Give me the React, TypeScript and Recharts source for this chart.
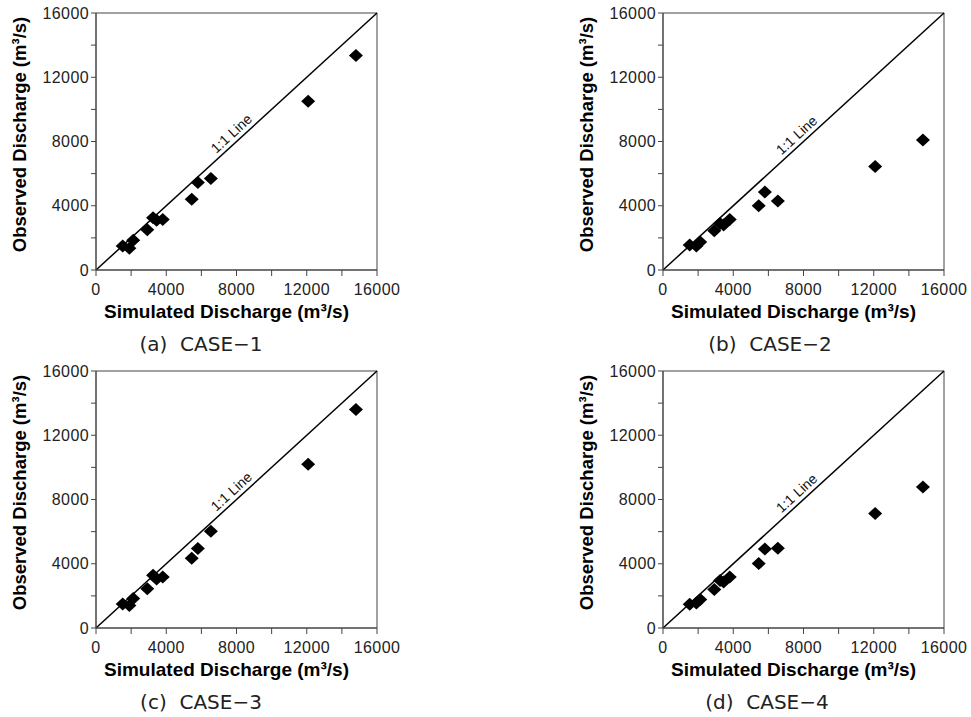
import {
  Label,
  ReferenceArea,
  ReferenceDot,
  ReferenceLine,
  Scatter,
  ScatterChart,
  XAxis,
  YAxis,
} from "recharts";

// simulated peak discharge per event (same events in every case)
const simulated = [1520, 1900, 2120, 2920, 3250, 3450, 3800, 5450, 5800, 6540, 12080, 14800];

// observed peak discharge per case
const observedCase1 = [1500, 1350, 1850, 2500, 3250, 3100, 3150, 4400, 5450, 5700, 10500, 13350];
const observedCase2 = [1550, 1500, 1750, 2450, 2900, 2800, 3150, 4000, 4850, 4300, 6450, 8100];
const observedCase3 = [1500, 1400, 1830, 2450, 3280, 3050, 3170, 4340, 4950, 6020, 10200, 13600];
const observedCase4 = [1480, 1550, 1780, 2400, 2950, 2870, 3170, 4010, 4920, 4960, 7130, 8780];

const axisTicks = [0, 2000, 4000, 6000, 8000, 10000, 12000, 14000, 16000];
const caseTitles = ["(a)  CASE\u22121", "(b)  CASE\u22122", "(c)  CASE\u22123", "(d)  CASE\u22124"];

const FONT = "'Liberation Sans', Arial, sans-serif";
const AXIS = "#444";

const toPoints = (obs: number[]) => simulated.map((sim, i) => ({ sim, obs: obs[i] }));

const Diamond = (props: any) => {
  const { cx, cy } = props;
  if (cx == null || cy == null) return null;
  return (
    <polygon
      points={`${cx - 7},${cy} ${cx},${cy - 6.5} ${cx + 7},${cy} ${cx},${cy + 6.5}`}
      fill="#000"
    />
  );
};

const XTitle = ({ viewBox }: any) => (
  <text
    x={viewBox.x + viewBox.width / 2 - 10}
    y={viewBox.y + 41}
    textAnchor="middle"
    dominantBaseline="central"
    fontFamily={FONT}
    fontWeight="bold"
    fontSize={19}
    fill="#000"
  >
    Simulated Discharge (m³/s)
  </text>
);

const YTitle = ({ viewBox }: any) => {
  const x = viewBox.x + 19;
  const y = viewBox.y + viewBox.height / 2 - 7;
  return (
    <text
      transform={`translate(${x},${y}) rotate(-90)`}
      textAnchor="middle"
      dominantBaseline="central"
      fontFamily={FONT}
      fontWeight="bold"
      fontSize={18.5}
      fill="#000"
    >
      Observed Discharge (m³/s)
    </text>
  );
};

const OneToOneText = ({ viewBox }: any) => (
  <text
    transform={`translate(${viewBox.x},${viewBox.y}) rotate(-42.4)`}
    textAnchor="middle"
    dominantBaseline="central"
    fontFamily={FONT}
    fontSize={14}
    fill="#111"
  >
    1:1 Line
  </text>
);

const tickFmt = (v: number) => (v % 4000 === 0 ? String(v) : "");
const tickStyle = { fontSize: 16, fill: "#222", fontFamily: FONT, letterSpacing: 0.4 };

interface PanelProps {
  left: number;
  top: number;
  observed: number[];
  title: string;
  titleX: number;
  labelAt: [number, number];
}

const Panel = ({ left, top, observed, title, titleX, labelAt }: PanelProps) => (
  <>
    <div style={{ position: "absolute", left, top }}>
      <ScatterChart width={400} height={340} margin={{ top: 13, right: 23, left: 0, bottom: 0 }}>
        <XAxis
          type="number"
          dataKey="sim"
          domain={[0, 16000]}
          ticks={axisTicks}
          interval={0}
          tickFormatter={tickFmt}
          tickSize={6}
          tickMargin={8}
          height={70}
          stroke={AXIS}
          tick={tickStyle}
          allowDataOverflow
        >
          <Label content={XTitle} />
        </XAxis>
        <YAxis
          type="number"
          dataKey="obs"
          domain={[0, 16000]}
          ticks={axisTicks}
          interval={0}
          tickFormatter={tickFmt}
          tickSize={5}
          tickMargin={2}
          width={96}
          stroke={AXIS}
          tick={tickStyle}
          allowDataOverflow
        >
          <Label content={YTitle} />
        </YAxis>
        <ReferenceArea x1={0} x2={16000} y1={0} y2={16000} fill="none" stroke={AXIS} strokeWidth={1} />
        <ReferenceLine
          segment={[
            { x: 0, y: 0 },
            { x: 16000, y: 16000 },
          ]}
          stroke="#000"
          strokeWidth={1.5}
        />
        <ReferenceDot x={labelAt[0]} y={labelAt[1]} r={0} fill="none" stroke="none" label={OneToOneText} />
        <Scatter data={toPoints(observed)} shape={Diamond} isAnimationActive={false} />
      </ScatterChart>
    </div>
    <div
      style={{
        position: "absolute",
        left: titleX - 100,
        top: top + 333,
        width: 200,
        textAlign: "center",
        fontFamily: "'DejaVu Sans', sans-serif",
        fontSize: 20,
        lineHeight: "22px",
        color: "#222",
        whiteSpace: "pre",
      }}
    >
      {title}
    </div>
  </>
);

export default function App() {
  return (
    <div style={{ position: "absolute", left: 0, top: 0, width: 971, height: 717, background: "#fff" }}>
      <Panel left={0} top={0} observed={observedCase1} title={caseTitles[0]} titleX={201} labelAt={[7700, 8500]} />
      <Panel left={567} top={0} observed={observedCase2} title={caseTitles[1]} titleX={770} labelAt={[7600, 8400]} />
      <Panel left={0} top={358} observed={observedCase3} title={caseTitles[2]} titleX={201} labelAt={[7700, 8500]} />
      <Panel left={567} top={358} observed={observedCase4} title={caseTitles[3]} titleX={767} labelAt={[7600, 8400]} />
    </div>
  );
}
